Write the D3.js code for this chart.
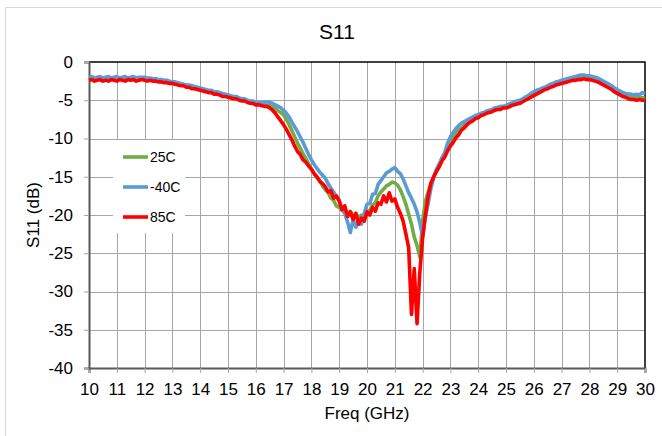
<!DOCTYPE html>
<html>
<head>
<meta charset="utf-8">
<script src="https://cdn.jsdelivr.net/npm/d3@7"></script>
<style>
  body { margin: 0; background: #fff; }
  svg { display: block; }
</style>
</head>
<body>
<div id="chart"></div>
<script>
// Frequency sampling points (GHz), one row per GHz
const freqGHz = [
  10.0,10.1,10.2,10.3,10.4,10.5,10.6,10.7,10.8,10.9,
  11.0,11.1,11.2,11.3,11.4,11.5,11.6,11.7,11.8,11.9,
  12.0,12.1,12.2,12.3,12.4,12.5,12.6,12.7,12.8,12.9,
  13.0,13.1,13.2,13.3,13.4,13.5,13.6,13.7,13.8,13.9,
  14.0,14.1,14.2,14.3,14.4,14.5,14.6,14.7,14.8,14.9,
  15.0,15.1,15.2,15.3,15.4,15.5,15.6,15.7,15.8,15.9,
  16.0,16.1,16.2,16.3,16.4,16.5,16.6,16.7,16.8,16.9,
  17.0,17.1,17.2,17.3,17.4,17.5,17.6,17.7,17.8,17.9,
  18.0,18.1,18.2,18.3,18.4,18.5,18.6,18.7,18.8,18.9,
  19.0,19.1,19.2,19.3,19.4,19.5,19.6,19.7,19.8,19.9,
  20.0,20.1,20.2,20.3,20.4,20.5,20.6,20.7,20.8,20.9,
  21.0,21.1,21.2,21.3,21.4,21.5,21.6,21.7,21.8,21.9,
  22.0,22.1,22.2,22.3,22.4,22.5,22.6,22.7,22.8,22.9,
  23.0,23.1,23.2,23.3,23.4,23.5,23.6,23.7,23.8,23.9,
  24.0,24.1,24.2,24.3,24.4,24.5,24.6,24.7,24.8,24.9,
  25.0,25.1,25.2,25.3,25.4,25.5,25.6,25.7,25.8,25.9,
  26.0,26.1,26.2,26.3,26.4,26.5,26.6,26.7,26.8,26.9,
  27.0,27.1,27.2,27.3,27.4,27.5,27.6,27.7,27.8,27.9,
  28.0,28.1,28.2,28.3,28.4,28.5,28.6,28.7,28.8,28.9,
  29.0,29.1,29.2,29.3,29.4,29.5,29.6,29.7,29.8,29.9,
  30.0
];

// S11 (dB) at 25C
const s11At25C = [
  -2.3,-2.2,-2.3,-2.2,-2.3,-2.2,-2.3,-2.2,-2.3,-2.2,
  -2.3,-2.2,-2.3,-2.2,-2.3,-2.2,-2.3,-2.2,-2.3,-2.2,
  -2.3,-2.3,-2.4,-2.4,-2.4,-2.5,-2.5,-2.6,-2.6,-2.7,
  -2.7,-2.8,-2.9,-3.0,-3.0,-3.2,-3.2,-3.4,-3.4,-3.5,
  -3.6,-3.7,-3.8,-3.9,-3.9,-4.1,-4.1,-4.2,-4.4,-4.4,
  -4.5,-4.6,-4.7,-4.7,-4.9,-5.0,-5.0,-5.2,-5.3,-5.3,
  -5.5,-5.5,-5.6,-5.6,-5.7,-5.7,-5.9,-6.1,-6.4,-6.6,
  -6.9,-7.5,-8.2,-9.0,-9.8,-10.6,-11.3,-12.0,-12.6,-13.3,
  -14.0,-14.6,-15.1,-15.5,-16.2,-16.7,-17.0,-17.8,-18.1,-18.8,
  -19.0,-19.4,-19.2,-19.9,-19.5,-20.1,-19.8,-20.4,-20.0,-20.2,
  -19.7,-19.4,-18.7,-18.4,-17.5,-17.0,-16.6,-16.2,-16.0,-15.7,
  -15.8,-16.1,-16.7,-17.6,-18.6,-19.9,-21.2,-22.9,-24.0,-25.5,
  -20.8,-18.2,-17.0,-15.9,-15.0,-14.2,-13.4,-12.6,-12.0,-11.0,
  -10.3,-9.8,-9.3,-8.9,-8.6,-8.3,-8.0,-7.8,-7.5,-7.3,
  -7.1,-6.9,-6.8,-6.6,-6.5,-6.3,-6.2,-6.1,-6.0,-5.9,
  -5.8,-5.7,-5.5,-5.4,-5.3,-5.2,-5.0,-4.8,-4.6,-4.4,
  -4.2,-4.0,-3.8,-3.6,-3.5,-3.3,-3.1,-3.0,-2.8,-2.7,
  -2.6,-2.5,-2.4,-2.3,-2.2,-2.1,-2.1,-2.0,-2.0,-2.0,
  -2.1,-2.2,-2.3,-2.4,-2.6,-2.8,-3.0,-3.2,-3.4,-3.6,
  -3.9,-4.1,-4.3,-4.4,-4.5,-4.6,-4.6,-4.7,-4.6,-4.7,
  -4.6
];

// S11 (dB) at -40C
const s11AtMinus40C = [
  -2.0,-1.9,-2.1,-2.0,-1.9,-2.1,-2.0,-1.9,-2.1,-2.0,
  -1.9,-2.1,-2.0,-1.9,-2.1,-2.0,-1.9,-2.1,-2.0,-2.0,
  -2.0,-2.1,-2.1,-2.2,-2.2,-2.3,-2.3,-2.4,-2.4,-2.5,
  -2.6,-2.6,-2.7,-2.8,-2.9,-3.0,-3.0,-3.1,-3.2,-3.3,
  -3.4,-3.5,-3.6,-3.7,-3.7,-3.9,-3.9,-4.0,-4.1,-4.2,
  -4.3,-4.4,-4.5,-4.5,-4.7,-4.8,-4.8,-5.0,-5.1,-5.1,
  -5.3,-5.3,-5.3,-5.3,-5.2,-5.3,-5.4,-5.6,-5.8,-6.0,
  -6.3,-6.7,-7.2,-7.9,-8.5,-9.1,-9.8,-10.5,-11.3,-12.1,
  -12.8,-13.4,-13.9,-14.4,-14.8,-15.2,-15.9,-16.5,-17.0,-17.6,
  -18.0,-19.3,-19.8,-20.9,-22.3,-20.6,-21.6,-20.5,-21.2,-19.8,
  -18.6,-18.5,-17.3,-17.2,-16.0,-15.5,-15.0,-14.5,-14.3,-14.0,
  -13.8,-14.3,-14.6,-15.3,-16.2,-17.1,-17.8,-18.6,-19.6,-21.0,
  -22.9,-20.3,-18.5,-16.5,-15.1,-14.0,-13.3,-12.5,-11.8,-10.6,
  -9.8,-9.2,-8.7,-8.3,-8.0,-7.8,-7.6,-7.4,-7.2,-7.0,
  -6.9,-6.7,-6.6,-6.4,-6.3,-6.2,-6.0,-5.9,-5.8,-5.8,
  -5.7,-5.5,-5.4,-5.2,-5.1,-5.0,-4.8,-4.6,-4.4,-4.1,
  -3.9,-3.7,-3.6,-3.4,-3.3,-3.1,-2.9,-2.8,-2.6,-2.5,
  -2.4,-2.3,-2.2,-2.1,-2.0,-1.9,-1.8,-1.7,-1.7,-1.8,
  -1.8,-1.9,-2.0,-2.1,-2.3,-2.5,-2.7,-2.9,-3.1,-3.4,
  -3.6,-3.8,-4.0,-4.1,-4.2,-4.2,-4.3,-4.2,-4.3,-4.0,
  -4.1
];

// S11 (dB) at 85C
const s11At85C = [
  -2.4,-2.3,-2.5,-2.4,-2.3,-2.5,-2.4,-2.5,-2.3,-2.4,
  -2.5,-2.3,-2.4,-2.5,-2.3,-2.4,-2.3,-2.5,-2.4,-2.3,
  -2.4,-2.5,-2.4,-2.5,-2.5,-2.6,-2.6,-2.7,-2.7,-2.8,
  -2.8,-2.9,-3.0,-3.1,-3.1,-3.3,-3.3,-3.5,-3.5,-3.6,
  -3.7,-3.8,-3.9,-4.0,-4.0,-4.2,-4.2,-4.3,-4.5,-4.5,
  -4.6,-4.7,-4.8,-4.8,-5.0,-5.1,-5.1,-5.3,-5.4,-5.4,
  -5.6,-5.6,-5.7,-5.8,-5.8,-6.0,-6.3,-6.7,-7.2,-7.7,
  -8.2,-8.8,-9.5,-10.2,-11.0,-11.7,-12.1,-12.8,-13.1,-13.6,
  -14.0,-14.6,-15.0,-15.6,-15.9,-16.3,-17.0,-16.8,-17.8,-17.5,
  -18.2,-19.3,-18.8,-20.2,-19.6,-20.6,-19.8,-21.2,-20.4,-20.8,
  -19.6,-20.0,-19.0,-19.5,-18.4,-18.6,-17.5,-18.3,-17.1,-18.2,
  -17.9,-19.0,-19.8,-20.8,-22.5,-24.3,-33.0,-27.0,-34.2,-27.5,
  -23.0,-20.0,-17.5,-15.8,-15.0,-14.3,-13.7,-12.9,-12.4,-11.6,
  -11.0,-10.5,-9.9,-9.5,-8.9,-8.6,-8.2,-7.9,-7.7,-7.4,
  -7.3,-7.0,-6.9,-6.7,-6.6,-6.5,-6.3,-6.2,-6.2,-6.0,
  -6.0,-5.9,-5.7,-5.6,-5.5,-5.4,-5.2,-5.0,-4.8,-4.6,
  -4.4,-4.2,-4.0,-3.8,-3.6,-3.5,-3.3,-3.2,-3.0,-2.9,
  -2.8,-2.7,-2.6,-2.5,-2.4,-2.4,-2.3,-2.3,-2.2,-2.3,
  -2.3,-2.4,-2.5,-2.6,-2.8,-3.0,-3.2,-3.4,-3.6,-3.9,
  -4.1,-4.3,-4.5,-4.6,-4.8,-4.9,-4.9,-5.0,-4.9,-5.0,
  -5.0
];

const seriesNames = ["25C", "-40C", "85C"];
const seriesColors = ["#70ad47", "#5b9bd5", "#ff0000"];
const xTickValues = [10,11,12,13,14,15,16,17,18,19,20,21,22,23,24,25,26,27,28,29,30];
const yTickValues = [0,-5,-10,-15,-20,-25,-30,-35,-40];

const chartTitle = "S11";
const xLabel = "Freq (GHz)";
const yLabel = "S11 (dB)";

const width = 662, height = 436;
const plot = { left: 89, right: 645, top: 62, bottom: 368 };
const font = "'Liberation Sans', Arial, sans-serif";

const series = [s11At25C, s11AtMinus40C, s11At85C].map((vals, k) => ({
  name: seriesNames[k],
  color: seriesColors[k],
  points: freqGHz.map((f, i) => [f, vals[i]])
}));

const x = d3.scaleLinear().domain([10, 30]).range([plot.left, plot.right]);
const y = d3.scaleLinear().domain([-40, 0]).range([plot.bottom, plot.top]);

const svg = d3.select("#chart").append("svg")
  .attr("width", width)
  .attr("height", height)
  .attr("font-family", font);

// chart area frame
svg.append("rect")
  .attr("x", 5.5).attr("y", 7.5)
  .attr("width", width + 10).attr("height", height + 10)
  .attr("fill", "#fff")
  .attr("stroke", "#d9d9d9");

// grid
const grid = svg.append("g").attr("shape-rendering", "crispEdges");
grid.selectAll(".vgrid")
  .data(xTickValues.slice(1, -1))
  .join("line")
  .attr("x1", d => Math.round(x(d)) + 0.5).attr("x2", d => Math.round(x(d)) + 0.5)
  .attr("y1", plot.top).attr("y2", plot.bottom)
  .attr("stroke", "#a6a6a6");
grid.selectAll(".hgrid")
  .data(yTickValues.slice(1, -1))
  .join("line")
  .attr("x1", plot.left).attr("x2", plot.right)
  .attr("y1", d => Math.round(y(d)) + 0.5).attr("y2", d => Math.round(y(d)) + 0.5)
  .attr("stroke", "#a6a6a6");

// plot border (top / right)
svg.append("path")
  .attr("d", `M${plot.left},${plot.top}H${plot.right}V${plot.bottom}`)
  .attr("fill", "none")
  .attr("stroke", "#000")
  .attr("stroke-width", 1.5);

// axes
const xAxis = d3.axisBottom(x)
  .tickValues(xTickValues)
  .tickSize(5)
  .tickPadding(10)
  .tickFormat(d => String(d));
const yAxis = d3.axisLeft(y)
  .tickValues(yTickValues)
  .tickSize(5)
  .tickPadding(11)
  .tickFormat(d => String(d));

svg.append("g")
  .attr("transform", `translate(0,${plot.bottom})`)
  .call(xAxis)
  .call(g => g.select(".domain").attr("stroke", "#595959").attr("stroke-width", 2))
  .call(g => g.selectAll(".tick line").attr("stroke", "#a6a6a6"))
  .call(g => g.selectAll("text").attr("font-size", 17).attr("font-family", font).attr("fill", "#000"));

svg.append("g")
  .attr("transform", `translate(${plot.left},0)`)
  .call(yAxis)
  .call(g => g.select(".domain").attr("stroke", "#595959").attr("stroke-width", 2))
  .call(g => g.selectAll(".tick line").attr("stroke", "#a6a6a6"))
  .call(g => g.selectAll("text").attr("font-size", 17).attr("font-family", font).attr("fill", "#000"));

// curves
const line = d3.line()
  .x(d => x(d[0]))
  .y(d => y(d[1]));

svg.append("g")
  .selectAll("path")
  .data(series)
  .join("path")
  .attr("fill", "none")
  .attr("stroke", d => d.color)
  .attr("stroke-width", 3.6)
  .attr("stroke-linejoin", "round")
  .attr("d", d => line(d.points));

// legend
const legend = svg.append("g");
legend.append("rect")
  .attr("x", 113).attr("y", 140)
  .attr("width", 72).attr("height", 93)
  .attr("fill", "#fff");
const items = legend.selectAll(".item")
  .data(series)
  .join("g")
  .attr("transform", (d, i) => `translate(123,${157 + i * 30})`);
items.append("line")
  .attr("x1", 0).attr("x2", 25)
  .attr("stroke", d => d.color)
  .attr("stroke-width", 3.6);
items.append("text")
  .attr("x", 27).attr("dy", "0.35em")
  .attr("font-size", 14)
  .attr("fill", "#000")
  .text(d => d.name);

// titles
svg.append("text")
  .attr("x", 337).attr("y", 39)
  .attr("text-anchor", "middle")
  .attr("font-size", 21)
  .attr("fill", "#000")
  .text(chartTitle);

svg.append("text")
  .attr("x", 367).attr("y", 419)
  .attr("text-anchor", "middle")
  .attr("font-size", 17)
  .attr("fill", "#000")
  .text(xLabel);

svg.append("text")
  .attr("transform", "translate(39,215) rotate(-90)")
  .attr("text-anchor", "middle")
  .attr("font-size", 17)
  .attr("fill", "#000")
  .text(yLabel);
</script>
</body>
</html>
